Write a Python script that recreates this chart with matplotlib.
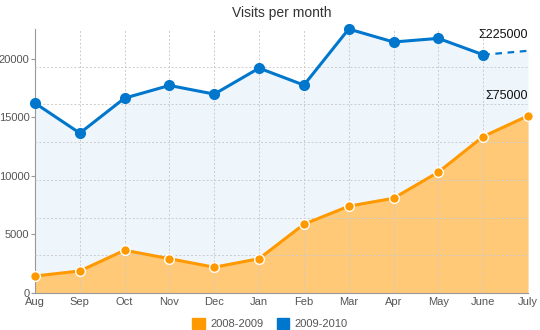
import matplotlib.pyplot as plt
from matplotlib.patches import Patch
import numpy as np

plt.rcParams['font.family'] = ['Liberation Sans', 'DejaVu Sans']

months = ['Aug', 'Sep', 'Oct', 'Nov', 'Dec', 'Jan', 'Feb', 'Mar', 'Apr', 'May', 'June', 'July']
visits_0809 = [1450, 1880, 3650, 2930, 2200, 2930, 5870, 7410, 8090, 10320, 13360, 15130]
visits_0910 = [16210, 13650, 16640, 17720, 16980, 19200, 17750, 22540, 21430, 21740, 20340]
visits_0910_est = 20680  # July, projected (dashed)
series_labels = ['2008-2009', '2009-2010']
totals = ['\u03a375000', '\u03a3225000']

orange = '#ff9900'
blue = '#0077cc'

x = np.arange(len(months))
blue_all = visits_0910 + [visits_0910_est]
ymax = max(blue_all)

fig = plt.figure(figsize=(5.4, 3.3), dpi=100)
ax = fig.add_axes([35 / 540, 37 / 330, 493 / 540, 264 / 330])

ax.fill_between(x, blue_all, 0, color='#eef5fb', lw=0, zorder=1)
ax.fill_between(x, visits_0809, 0, color='#ffc978', lw=0, zorder=2)

# grid: vertical at each month, horizontal in 7 equal bands
for xi in x[1:]:
    ax.axvline(xi, color='#cccccc', ls=(0, (2, 2)), lw=0.7, zorder=3)
for k in range(1, 7):
    ax.axhline(ymax * k / 7, color='#cccccc', ls=(0, (2, 2)), lw=0.7, zorder=3)

n = len(visits_0910)
ax.plot(x[:n], visits_0910, color=blue, lw=2.2, marker='o', ms=7,
        mec=blue, zorder=5, clip_on=False)
ax.plot(x[n - 1:], [visits_0910[-1], visits_0910_est], color=blue, lw=1.6,
        ls=(0, (3, 2.5)), zorder=5, clip_on=False)
ax.plot(x, visits_0809, color=orange, lw=2.2, marker='o', ms=7,
        mec='white', mew=1, zorder=6, clip_on=False)

ax.annotate(totals[1], (x[-1], visits_0910_est), xytext=(0, 7),
            textcoords='offset points', ha='right', va='bottom',
            fontsize=9, color='#111111')
ax.annotate(totals[0], (x[-1], visits_0809[-1]), xytext=(0, 10),
            textcoords='offset points', ha='right', va='bottom',
            fontsize=9, color='#111111')

ax.set_xlim(0, len(months) - 1)
ax.set_ylim(0, ymax)
ax.set_xticks(x)
ax.set_xticklabels(months)
ax.set_yticks([0, 5000, 10000, 15000, 20000])
ax.tick_params(axis='x', length=0, pad=3, labelsize=8, colors='#555555')
ax.tick_params(axis='y', length=3, pad=1, labelsize=8, colors='#555555', color='#999999')
for s in ['top', 'right']:
    ax.spines[s].set_visible(False)
for s in ['left', 'bottom']:
    ax.spines[s].set_color('#999999')
    ax.spines[s].set_linewidth(0.8)

ax.set_title('Visits per month', fontsize=10, color='#333333', pad=9)

handles = [Patch(color=orange), Patch(color=blue)]
fig.legend(handles, series_labels, loc='center', bbox_to_anchor=(0.5, 0.02),
           ncol=2, frameon=False, fontsize=8, labelcolor='#555555',
           handlelength=1.1, handleheight=1.1, handletextpad=0.5, columnspacing=1.2)

fig.savefig('out.png', dpi=100)
